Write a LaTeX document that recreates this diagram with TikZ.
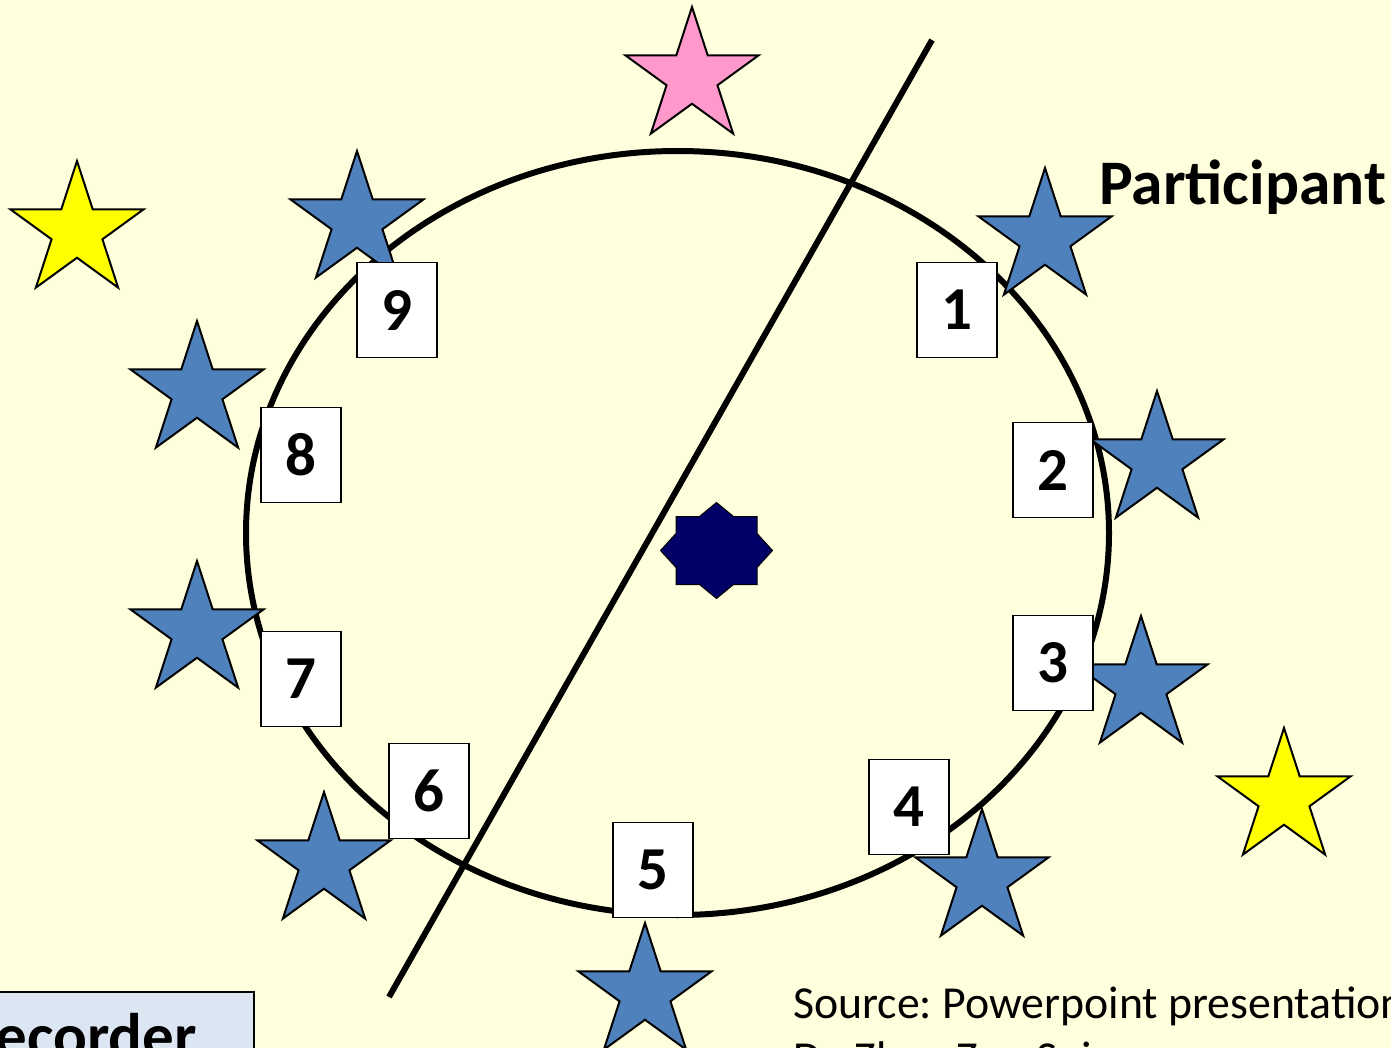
\documentclass[tikz,border=0pt]{standalone}
\usepackage{fontspec}
\setmainfont{Carlito}
\usetikzlibrary{shapes.geometric}
\frenchspacing
\definecolor{bg}{RGB}{255,255,221}
\definecolor{sblue}{RGB}{79,129,189}
\definecolor{spink}{RGB}{255,153,204}
\definecolor{syellow}{RGB}{255,255,0}
\definecolor{navyeight}{RGB}{0,0,102}
\definecolor{recfill}{RGB}{220,230,242}
\begin{document}
\begin{tikzpicture}[x=1pt,y=-1pt,
  starshape/.style={star,star points=5,star point ratio=2.618,minimum size=140pt,inner sep=0pt,draw=black,line width=2pt},
  bluestar/.style={starshape,fill=sblue},
  yellowstar/.style={starshape,fill=syellow},
  pinkstar/.style={starshape,fill=spink},
  numbox/.style={draw=black,line width=1.5pt,fill=white,minimum width=80pt,minimum height=95pt,inner sep=0pt,font=\fontsize{61}{61}\selectfont\bfseries},
  lbl/.style={inner sep=0pt,anchor=base west},
]
\path[use as bounding box] (0,0) rectangle (1391,1048);
\clip (0,0) rectangle (1391,1048);
\fill[bg] (0,0) rectangle (1391,1048);

% ring and dividing line
\draw[line width=6pt] (677.5,533) ellipse [x radius=431.5pt, y radius=382pt];
\coordinate (ltop) at (932,40);
\coordinate (lbot) at (389,997);
\draw[line width=6pt] (ltop) -- (lbot);

% stars
\node[pinkstar] (pink) at (692,77) {};
\node[yellowstar] (yl) at (77,231) {};
\node[yellowstar] (yr) at (1284,798) {};
\node[bluestar] (s9) at (357,221) {};
\node[bluestar] (s1) at (1045,238) {};
\node[bluestar] (s8) at (197,391) {};
\node[bluestar] (s2) at (1157,461) {};
\node[bluestar] (s7) at (197,631) {};
\node[bluestar] (s3) at (1141,686) {};
\node[bluestar] (s6) at (324,862) {};
\node[bluestar] (s4) at (982,879) {};
\node[bluestar] (s5) at (645,993) {};

% number boxes
\node[numbox] (b9) at (397,310) {9};
\node[numbox] (b1) at (957,310) {1};
\node[numbox] (b8) at (301,455) {8};
\node[numbox] (b2) at (1053,470) {2};
\node[numbox] (b7) at (301,679) {7};
\node[numbox] (b3) at (1053,663) {3};
\node[numbox] (b6) at (429,791) {6};
\node[numbox] (b4) at (909,807) {4};
\node[numbox] (b5) at (653,870) {5};

% central eight-pointed star
\begin{scope}[shift={(716.5,550.5)}]
\draw[fill=navyeight,line width=1pt,line join=miter]
  (0,-48) -- (17,-34) -- (40.5,-34) -- (40.5,-17) -- (56,0) -- (40.5,17) -- (40.5,34) -- (17,34)
  -- (0,48) -- (-17,34) -- (-40.5,34) -- (-40.5,17) -- (-56,0) -- (-40.5,-17) -- (-40.5,-34) -- (-17,-34) -- cycle;
\end{scope}

% texts
\node[lbl,font=\fontsize{63.5}{63.5}\selectfont\bfseries] (part) at (1099,205) {Participant};
\node[lbl,font=\fontsize{45.8}{45.8}\selectfont] (src1) at (793,1018) {Source: Powerpoint presentation};
\node[lbl,font=\fontsize{45.8}{45.8}\selectfont] (src2) at (793,1073) {Dr. Zhao Zuo Sui};

% recorder box
\draw[line width=2pt,fill=recfill] (-10,992) rectangle (254,1080);
\node[inner sep=0pt,anchor=base east,font=\fontsize{63}{63}\selectfont\bfseries] (rec) at (197,1057) {Recorder};
\end{tikzpicture}
\end{document}
